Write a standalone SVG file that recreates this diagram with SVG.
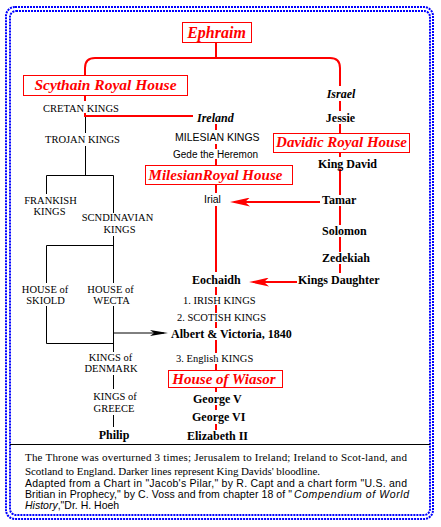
<svg xmlns="http://www.w3.org/2000/svg" width="441" height="527" viewBox="0 0 441 527">
<style>
.red{stroke:#f00;stroke-width:2;fill:none}
.blk{stroke:#000;stroke-width:1;fill:none}
.box{fill:#fff;stroke:#f00;stroke-width:1}
.bord{fill:none;stroke:#0000ff;stroke-width:2;stroke-dasharray:2 1}
.title{font-family:"Liberation Serif",serif;font-weight:bold;font-style:italic;font-size:15px;fill:#f00;text-anchor:middle}
.bb{font-family:"Liberation Serif",serif;font-weight:bold;font-size:12px;fill:#000}
.bi{font-family:"Liberation Serif",serif;font-weight:bold;font-style:italic;font-size:12px;fill:#000}
.cap{font-family:"Liberation Serif",serif;font-size:10.5px;fill:#000}
.sans{font-family:"Liberation Sans",sans-serif;font-size:10px;fill:#000}
.mid{text-anchor:middle}
.fs{font-family:"Liberation Serif",serif;font-size:11px;fill:#000}
.fn{font-family:"Liberation Sans",sans-serif;font-size:10.5px;fill:#000}
.it{font-style:italic}
</style>
<defs>
<marker id="ahr" viewBox="0 0 20 9" refX="16" refY="4.5" markerWidth="20" markerHeight="9" markerUnits="userSpaceOnUse" orient="auto">
<path d="M0,0 L20,4.5 L0,9 L5,4.5 Z" fill="#f00"/>
</marker>
<marker id="ahk" viewBox="0 0 18 6" refX="14" refY="3" markerWidth="18" markerHeight="6" markerUnits="userSpaceOnUse" orient="auto">
<path d="M0,0 L18,3 L0,6 L4,3 Z" fill="#000"/>
</marker>
</defs>
<rect width="441" height="527" fill="#fff"/>
<rect class="bord" x="6" y="7" width="427" height="512" rx="9"/>
<rect class="bord" x="10" y="11" width="420" height="504" rx="6"/>
<line x1="10" y1="444.5" x2="430" y2="444.5" stroke="#000" stroke-width="1"/>

<g id="connectors">
<path class="red" d="M216,42 V58 M85,75 V68 Q85,58 95,58 H330 Q340,58 340,68 V86"/>
<path class="red" d="M85,95 V101 M85,113 V116 H193"/>
<path class="red" d="M216,124 V130 M216,144 V149 M216,159 V165 M216,184 V193 M216,206 V272 M216,287 V295 M216,305 V313 M216,322 V328 M216,340 V353 M216,364 V370 M216,387 V392 M216,405 V410 M216,424 V430"/>
<path class="red" d="M340,101 V111 M340,124 V133 M340,152 V157 M340,169 V195 M340,206 V225 M340,237 V252 M340,264 V273"/>
<line class="red" x1="320" y1="202" x2="234" y2="202" marker-end="url(#ahr)"/>
<line class="red" x1="297" y1="282" x2="253" y2="282" marker-end="url(#ahr)"/>
<path class="blk" d="M85.5,117 V133 M85.5,146 V175.5 M46.5,175.5 H113.5 M46.5,175.5 V194 M113.5,175.5 V213 M113.5,236 V283 M46.5,245.5 H113.5 M46.5,245.5 V283 M46.5,306 V343.5 H113.5 M113.5,306 V352 M113.5,375 V389 M113.5,415 V427"/>
<line class="blk" x1="113.5" y1="333" x2="164" y2="333" marker-end="url(#ahk)"/>
</g>

<g id="ephraim"><rect class="box" x="182.5" y="22.5" width="69" height="20"/><text class="title" x="216.5" y="37.5" font-size="16" style="font-size:16px">Ephraim</text></g>
<g id="scythain"><rect class="box" x="23.5" y="75.5" width="164" height="20"/><text class="title" x="105.5" y="89.5" style="font-size:15.5px">Scythain Royal House</text></g>
<g id="davidic"><rect class="box" x="273.5" y="133.5" width="136" height="19"/><text class="title" x="341.5" y="147">Davidic Royal House</text></g>
<g id="milesian"><rect class="box" x="145.5" y="165.5" width="147" height="19"/><text class="title" x="215.5" y="179.5">MilesianRoyal House</text></g>
<g id="windsor"><rect class="box" x="168.5" y="370.5" width="114" height="17"/><text class="title" x="224" y="383.5">House of Wiasor</text></g>

<g id="cretan"><text class="cap" x="43" y="111.5">CRETAN KINGS</text></g>
<g id="trojan"><text class="cap" x="45" y="143">TROJAN KINGS</text></g>
<g id="frankish"><text class="cap mid" x="50.5" y="203.5">FRANKISH</text><text class="cap mid" x="49.5" y="215">KINGS</text></g>
<g id="scandinavian"><text class="cap mid" x="117.5" y="221">SCNDINAVIAN</text><text class="cap mid" x="119.5" y="233">KINGS</text></g>
<g id="skiold"><text class="cap mid" x="45" y="292.5">HOUSE of</text><text class="cap mid" x="45.5" y="304">SKIOLD</text></g>
<g id="wecta"><text class="cap mid" x="110.5" y="292.5">HOUSE of</text><text class="cap mid" x="111.5" y="304">WECTA</text></g>
<g id="denmark"><text class="cap mid" x="110.5" y="361">KINGS of</text><text class="cap mid" x="111" y="372">DENMARK</text></g>
<g id="greece"><text class="cap mid" x="115" y="399.5">KINGS of</text><text class="cap mid" x="114" y="412">GREECE</text></g>
<g id="philip"><text class="bb mid" x="114" y="438.5">Philip</text></g>

<g id="ireland"><text class="bi" x="197" y="122">Ireland</text></g>
<g id="milesian-kings"><text class="sans" x="175" y="141" style="font-size:10.5px">MILESIAN KINGS</text></g>
<g id="gede"><text class="sans" x="173" y="157.5">Gede the Heremon</text></g>
<g id="irial"><text class="sans" x="204" y="202.5" style="font-size:10.5px">Irial</text></g>
<g id="eochaidh"><text class="bb" x="192" y="284">Eochaidh</text></g>
<g id="irish-kings"><text class="cap" x="183" y="304">1. IRISH KINGS</text></g>
<g id="scotish-kings"><text class="cap" x="177" y="321">2. SCOTISH KINGS</text></g>
<g id="albert"><text class="bb" x="171" y="338">Albert &amp; Victoria, 1840</text></g>
<g id="english-kings"><text class="cap" x="176" y="361.5">3. English KINGS</text></g>
<g id="george5"><text class="bb" x="193" y="403">George V</text></g>
<g id="george6"><text class="bb" x="192" y="421">George VI</text></g>
<g id="elizabeth"><text class="bb" x="187" y="440">Elizabeth II</text></g>

<g id="israel"><text class="bi mid" x="341" y="98">Israel</text></g>
<g id="jessie"><text class="bb mid" x="340.5" y="122">Jessie</text></g>
<g id="king-david"><text class="bb" x="318" y="167.5">King David</text></g>
<g id="tamar"><text class="bb" x="322" y="204">Tamar</text></g>
<g id="solomon"><text class="bb" x="322" y="234.5">Solomon</text></g>
<g id="zedekiah"><text class="bb" x="322" y="262">Zedekiah</text></g>
<g id="kings-daughter"><text class="bb" x="298" y="283.5">Kings Daughter</text></g>

<g id="footer">
<text class="fs" x="25" y="461" textLength="382" lengthAdjust="spacing">The Throne was overturned 3 times; Jerusalem to Ireland; Ireland to Scot-land, and</text>
<text class="fs" x="25" y="474.5" textLength="295" lengthAdjust="spacing">Scotland to England.  Darker lines represent King Davids' bloodline.</text>
<text class="fn" x="25" y="486.5" textLength="382" lengthAdjust="spacing">Adapted from a Chart in "Jacob's Pilar," by R. Capt and a chart form "U.S. and</text>
<text class="fn" x="25" y="498" textLength="267" lengthAdjust="spacing">Britian in Prophecy," by C. Voss and from chapter 18 of  "</text>
<text class="fn it" x="294" y="498" textLength="115" lengthAdjust="spacing">Compendium of World</text>
<text class="fn" x="25" y="508.5"><tspan class="it">History</tspan>,"Dr. H. Hoeh</text>
</g>
</svg>
